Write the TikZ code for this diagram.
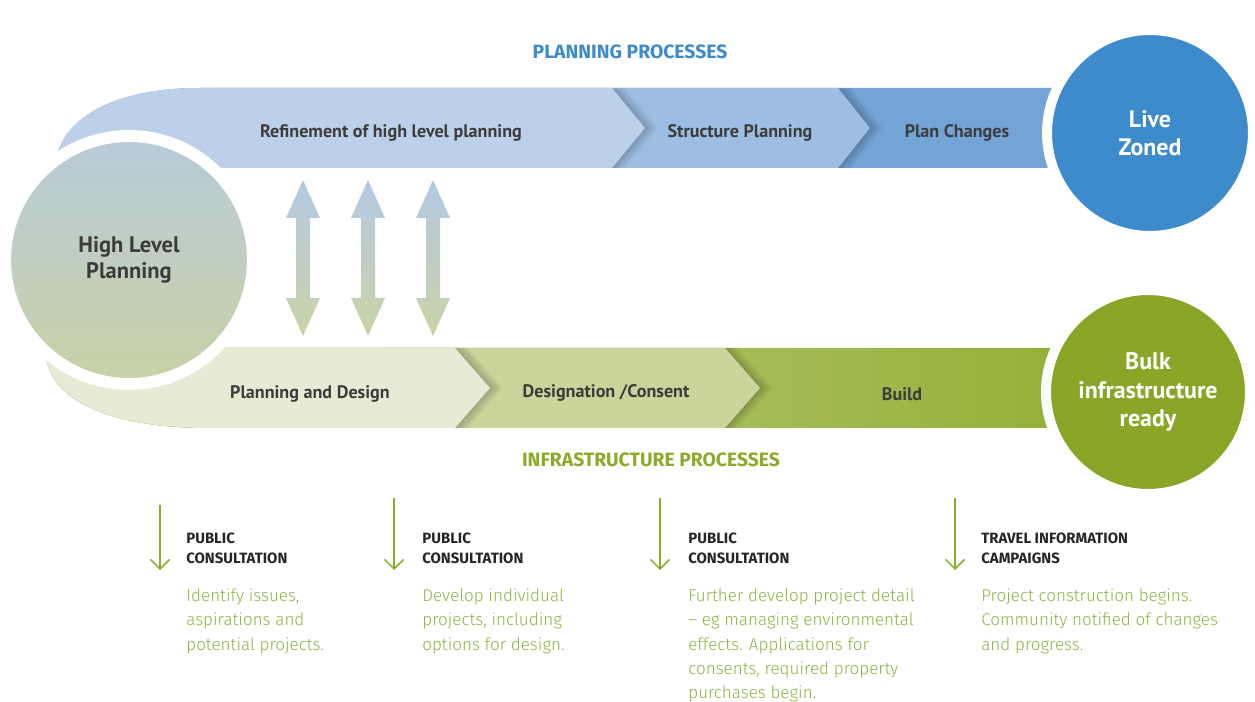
\documentclass[tikz,border=0pt]{standalone}
\usepackage{fontspec}
\setmainfont{Fira Sans}
\newfontfamily\narrowsans{PT Sans}
\newfontfamily\lightsans{Fira Sans Light}
\usetikzlibrary{arrows.meta,shadows.blur}

\definecolor{planA}{HTML}{BDD0EA}
\definecolor{planB}{HTML}{9EBDE2}
\definecolor{planC}{HTML}{74A3D6}
\definecolor{planhub}{HTML}{3D8BCB}
\definecolor{infraA}{HTML}{E6EBD5}
\definecolor{infraB}{HTML}{CAD49B}
\definecolor{infraL}{HTML}{C9D69C}
\definecolor{infraR}{HTML}{94B037}
\definecolor{infrahub}{HTML}{8AA626}
\definecolor{infratext}{HTML}{8DAA2B}
\definecolor{hlptop}{HTML}{B8CBD9}
\definecolor{hlpbottom}{HTML}{C8D2A6}
\definecolor{linkblue}{HTML}{B4C8E3}
\definecolor{linkgreen}{HTML}{C9D4A6}
\definecolor{labelgray}{HTML}{3C3C3C}
\definecolor{notegreen}{HTML}{93B043}

\tikzset{
  band label/.style={font=\narrowsans\bfseries\fontsize{10.3}{12}\selectfont, text=labelgray},
  hub/.style={circle, inner sep=0pt, draw=white, line width=0.2cm, align=center,
    text=white, font=\narrowsans\bfseries\fontsize{13.6}{16}\selectfont,
    blur shadow={shadow xshift=0.5pt, shadow yshift=-0.5pt, shadow blur radius=2.5pt, shadow opacity=35}},
  chevron shade/.style={black, opacity=0.03, xshift=#1*0.02cm},
  process title/.style={font=\bfseries\fontsize{11}{13}\selectfont},
  note head/.style={anchor=north west, inner sep=0pt, align=left, text=black!85,
    font=\bfseries\fontsize{8.5}{11}\selectfont},
  note body/.style={anchor=north west, inner sep=0pt, align=left, text=notegreen,
    font=\lightsans\fontsize{9.7}{13.9}\selectfont},
  note arrow/.style={draw=infratext, line width=0.85pt,
    -{Straight Barb[length=1.9mm, width=3.8mm, line width=0.85pt]}},
}

\begin{document}
\begin{tikzpicture}[x=0.02cm, y=-0.02cm]
\useasboundingbox (0,0) rectangle (1255,702);

% planning band
\fill[planC] (55,168) .. controls (58,118) and (115,88) .. (200,88) -- (1070,88)
  -- (1070,168) -- cycle;
\begin{scope}
  \clip (55,168) .. controls (58,118) and (115,88) .. (200,88) -- (1070,88)
    -- (1070,168) -- cycle;
  \foreach \d in {1,3,...,13}
    \fill[chevron shade=\d] (55,168) -- (838,88) -- (870,128) -- (838,168) -- cycle;
  \fill[planB] (55,168) .. controls (58,118) and (115,88) .. (200,88)
    -- (838,88) -- (870,128) -- (838,168) -- cycle;
  \foreach \d in {1,3,...,13}
    \fill[chevron shade=\d] (55,168) -- (612,88) -- (645,128) -- (612,168) -- cycle;
  \fill[planA] (55,168) .. controls (58,118) and (115,88) .. (200,88)
    -- (612,88) -- (645,128) -- (612,168) -- cycle;
\end{scope}

% infrastructure band
\shade[left color=infraL, right color=infraR] (45,348) -- (1070,348) -- (1070,428)
  -- (210,428) .. controls (105,428) and (45,398) .. (45,348) -- cycle;
\begin{scope}
  \clip (45,348) -- (1070,348) -- (1070,428)
    -- (210,428) .. controls (105,428) and (45,398) .. (45,348) -- cycle;
  \foreach \d in {1,3,...,13}
    \fill[chevron shade=\d] (45,348) -- (725,348) -- (760,388) -- (725,428) -- (45,428) -- cycle;
  \fill[infraB] (45,348) -- (725,348) -- (760,388) -- (725,428)
    -- (210,428) .. controls (105,428) and (45,398) .. (45,348) -- cycle;
  \foreach \d in {1,3,...,13}
    \fill[chevron shade=\d] (45,348) -- (455,348) -- (490,388) -- (455,428) -- (45,428) -- cycle;
  \fill[infraA] (45,348) -- (455,348) -- (490,388) -- (455,428)
    -- (210,428) .. controls (105,428) and (45,398) .. (45,348) -- cycle;
\end{scope}

% links between the two bands
\foreach \x in {303,368,433}
  \shade[top color=linkblue, bottom color=linkgreen] (\x,180) -- (\x+17,218)
    -- (\x+7,218) -- (\x+7,298) -- (\x+17,298) -- (\x,336) -- (\x-17,298)
    -- (\x-7,298) -- (\x-7,218) -- (\x-17,218) -- cycle;

% hubs
\node[hub, minimum size=4.96cm, line width=0.24cm, top color=hlptop, bottom color=hlpbottom,
  text=labelgray, font=\narrowsans\bfseries\fontsize{12.8}{15}\selectfont]
  (hlp) at (129,260) {High Level\\Planning};
\node[hub, minimum size=4.12cm, fill=planhub] (live) at (1150,133) {Live\\Zoned};
\node[hub, minimum size=4.08cm, fill=infrahub] (bulk) at (1148,392)
  {Bulk\\infrastructure\\ready};

% band labels
\node[band label] (refine) at (391,133) {Refinement of high level planning};
\node[band label] (struct) at (740,133) {Structure Planning};
\node[band label] (change) at (957,133) {Plan Changes};
\node[band label] (design) at (310,394) {Planning and Design};
\node[band label] (consent) at (606,393) {Designation /Consent};
\node[band label] (build) at (902,394) {Build};

\node[process title, text=planhub] (plantitle) at (630,52) {PLANNING PROCESSES};
\node[process title, text=infratext] (infratitle) at (651,460) {INFRASTRUCTURE PROCESSES};

% notes under the infrastructure band
\coordinate (n1) at (160,505); \coordinate (s1) at (160,570);
\coordinate (n2) at (394,498); \coordinate (s2) at (394,570);
\coordinate (n3) at (660,498); \coordinate (s3) at (660,570);
\coordinate (n4) at (955,498); \coordinate (s4) at (955,570);
\foreach \i in {1,...,4}
  \draw[note arrow] (n\i) -- (s\i);

\node[note head] (head1) at (186,533) {PUBLIC\\CONSULTATION};
\node[note head] (head2) at (422,533) {PUBLIC\\CONSULTATION};
\node[note head] (head3) at (688,533) {PUBLIC\\CONSULTATION};
\node[note head] (head4) at (981,533) {TRAVEL INFORMATION\\CAMPAIGNS};

\node[note body] (body1) at (186,588) {Identify issues,\\aspirations and\\potential projects.};
\node[note body] (body2) at (422,588) {Develop individual\\projects, including\\options for design.};
\node[note body] (body3) at (688,588) {Further develop project detail\\– eg managing environmental\\effects. Applications for\\consents, required property\\purchases begin.};
\node[note body] (body4) at (981,588) {Project construction begins.\\Community notified of changes\\and progress.};
\end{tikzpicture}
\end{document}
